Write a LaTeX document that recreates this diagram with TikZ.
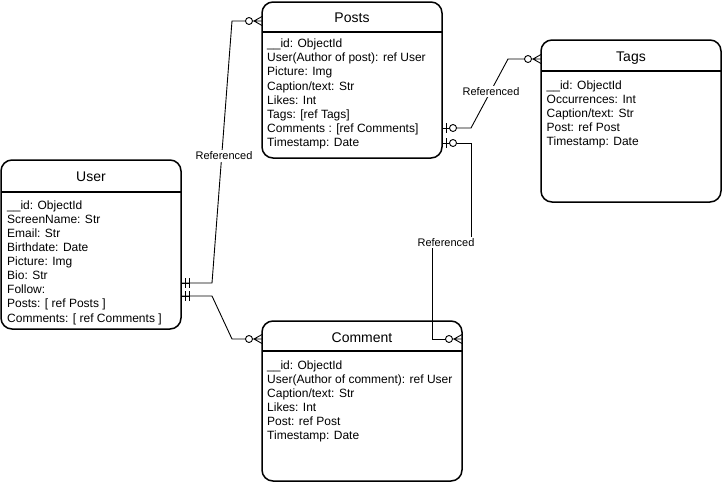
\documentclass[tikz,border=0pt]{standalone}
\usepackage{fontspec}
\setmainfont{Liberation Sans}
\begin{document}
\begin{tikzpicture}[x=1pt,y=-1pt]
\tikzset{
  ent/.style={draw, line width=1.5pt, rounded corners=11pt, inner sep=0pt, outer sep=0pt},
  divider/.style={line width=1.5pt},
  ttl/.style={font=\fontsize{14}{16}\selectfont, inner sep=0pt},
  body/.style={font=\fontsize{12}{14.1}\selectfont, align=left, anchor=north west, inner sep=0pt},
  conn/.style={line width=0.9pt},
  lbl/.style={font=\fontsize{11}{13}\selectfont, fill=white, inner sep=1.5pt},
  zeromany/.pic={
    \draw[conn, fill=white] (-13,0) circle (3.5);
    \draw[conn] (-9.5,0) -- (0,0) (-8,0) -- (0,-4.5) (-8,0) -- (0,4.5);
  },
  zeroone/.pic={
    \draw[conn] (0,0) -- (7.5,0) (4,-5) -- (4,5);
    \draw[conn, fill=white] (11,0) circle (3.5);
  },
  mandone/.pic={
    \draw[conn] (0,0) -- (9,0) (4,-5) -- (4,5) (8,-5) -- (8,5);
  }
}
\useasboundingbox (0,0) rectangle (722,482);

% entity boxes
\node[ent, minimum width=180pt, minimum height=156pt] (posts) at (352,80) {};
\node[ent, minimum width=180pt, minimum height=162pt] (tags) at (631,121) {};
\node[ent, minimum width=180pt, minimum height=169pt] (user) at (91,244.5) {};
\node[ent, minimum width=200pt, minimum height=160pt] (comment) at (362,401) {};

\draw[divider] (posts.west |- 0,32) -- (posts.east |- 0,32);
\draw[divider] (tags.west |- 0,71) -- (tags.east |- 0,71);
\draw[divider] (user.west |- 0,192) -- (user.east |- 0,192);
\draw[divider] (comment.west |- 0,351) -- (comment.east |- 0,351);

% titles
\node[ttl] (postsT) at (352,17.3) {Posts};
\node[ttl] (tagsT) at (631,57.7) {Tags};
\node[ttl] (userT) at (91,177.2) {User};
\node[ttl] (commentT) at (362,337.2) {Comment};

% bodies
\node[body] (postsB) at (267,38.5) {\rule{0pt}{9pt}\_\_id: ObjectId\\User(Author of post): ref User\\Picture: Img\\Caption/text: Str\\Likes: Int\\Tags: [ref Tags]\\Comments : [ref Comments]\\Timestamp: Date};
\node[body] (tagsB) at (546.5,80) {\rule{0pt}{9pt}\_\_id: ObjectId\\Occurrences: Int\\Caption/text: Str\\Post: ref Post\\Timestamp: Date};
\node[body] (userB) at (7,200) {\rule{0pt}{9pt}\_\_id: ObjectId\\ScreenName: Str\\Email: Str\\Birthdate: Date\\Picture: Img\\Bio: Str\\Follow:\\Posts: [ ref Posts ]\\Comments: [ ref Comments ]};
\node[body] (commentB) at (267,360) {\rule{0pt}{9pt}\_\_id: ObjectId\\User(Author of comment): ref User\\Caption/text: Str\\Likes: Int\\Post: ref Post\\Timestamp: Date};

% connection points
\coordinate (u1) at (user.east |- 0,283);
\coordinate (u2) at (user.east |- 0,296);
\coordinate (p1) at (posts.west |- 0,21);
\coordinate (p2) at (posts.east |- 0,128);
\coordinate (p3) at (posts.east |- 0,143);
\coordinate (t1) at (tags.west |- 0,59);
\coordinate (c1) at (comment.west |- 0,339);
\coordinate (c2) at (comment.east |- 0,339);

% connectors
\draw[conn] (u1) -- (212,283) -- (232,21) -- ([xshift=-16.5pt]p1);
\draw[conn] (u2) -- (212,296) -- (232,339) -- ([xshift=-16.5pt]c1);
\draw[conn] ([xshift=14.5pt]p2) -- (471,128) -- (508,59) -- ([xshift=-16.5pt]t1);
\draw[conn] ([xshift=14.5pt]p3) -- (471,143) -- (471,242) -- (432,242) -- (432,339) -- ([xshift=-16.5pt]c2);

% end markers
\pic at (u1) {mandone};
\pic at (u2) {mandone};
\pic at (p1) {zeromany};
\pic at (c1) {zeromany};
\pic at (t1) {zeromany};
\pic at (c2) {zeromany};
\pic at (p2) {zeroone};
\pic at (p3) {zeroone};

% labels
\node[lbl] (l1) at (224,156) {Referenced};
\node[lbl] (l2) at (491,91.5) {Referenced};
\node[lbl] (l3) at (446,242.5) {Referenced};
\end{tikzpicture}
\end{document}
